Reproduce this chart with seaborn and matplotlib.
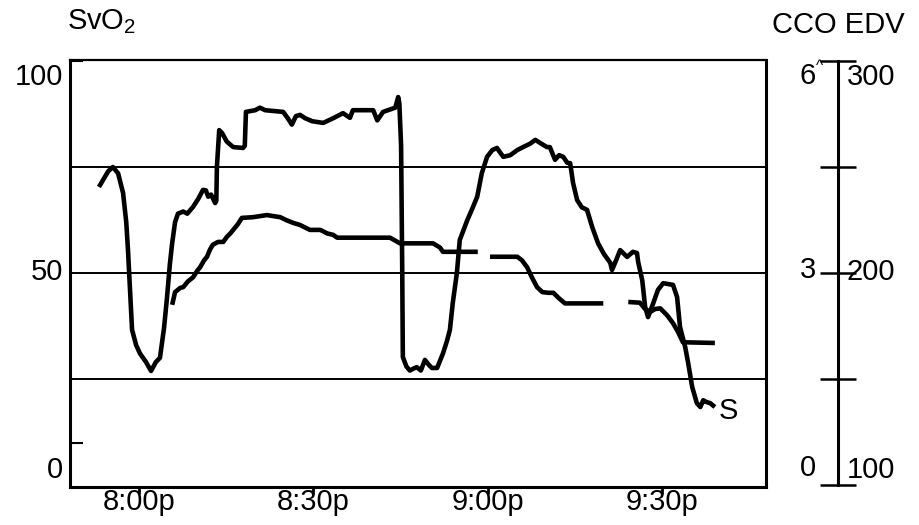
import numpy as np
import pandas as pd
import matplotlib
matplotlib.use("Agg")
import matplotlib.pyplot as plt
import seaborn as sns

# ---------------- data (minutes after 8:00 p.m.) ----------------
svo2_t = [-6.9, -5.3, -4.5, -3.6, -2.75, -2.2, -1.9, -1.7, -1.2, -0.5, 0.17, 1.2, 2.07,
          2.9, 3.6, 4.3, 4.8, 5.3, 5.7, 6.2, 6.7, 7.6, 8.3, 9.3, 10.2, 11.0, 11.5, 11.9,
          12.4, 13.1, 13.3, 13.4, 13.8, 14.3, 15.1, 16.2, 17.9, 18.2, 18.4, 20.0, 20.8,
          21.7, 24.8, 25.6, 26.3, 27.0, 27.7, 28.6, 29.8, 31.7, 33.4, 35.1, 36.3, 36.8,
          40.3, 41.0, 42.0, 44.1, 44.6, 44.8, 45.1, 45.3, 45.4, 46.0, 46.6, 47.3, 47.8,
          48.5, 49.2, 49.9, 50.4, 51.3, 52.3, 53.0, 53.5, 54.0, 54.7, 55.2, 56.5, 57.3,
          58.2, 59.0, 59.9, 60.8, 61.6, 62.1, 62.7, 63.9, 65.1, 66.1, 67.3, 68.2, 69.0,
          70.2, 70.7, 71.6, 72.3, 73.0, 73.7, 74.2, 74.7, 75.4, 76.2, 77.1, 78.0, 79.0,
          80.0, 81.1, 81.4, 82.1, 82.8, 84.0, 85.0, 85.7, 85.9, 86.6, 87.1, 87.6, 88.5,
          89.3, 90.2, 91.9, 92.6, 93.1, 94.0, 94.5, 95.2, 96.0, 96.6, 97.1, 97.6, 98.3,
          99.1]
svo2 = [70.3, 74.0, 75.0, 73.5, 68.9, 62.0, 55.4, 50.0, 36.6, 33.0, 31.0, 29.0, 26.9,
        29.0, 30.0, 37.0, 44.0, 52.0, 57.0, 62.0, 64.0, 64.5, 64.0, 65.6, 67.5, 69.6,
        69.5, 68.0, 68.5, 66.5, 67.0, 75.0, 83.7, 83.0, 81.0, 79.7, 79.5, 80.0, 88.0,
        88.4, 89.0, 88.4, 88.0, 86.5, 85.0, 87.0, 87.3, 86.5, 85.8, 85.4, 86.5, 87.7,
        86.6, 88.4, 88.4, 86.0, 88.0, 89.0, 91.5, 90.0, 80.0, 50.0, 30.2, 28.0, 27.0,
        27.5, 27.8, 27.0, 29.5, 28.3, 27.6, 27.6, 31.0, 34.0, 36.6, 43.0, 50.0, 57.8,
        62.5, 65.0, 68.0, 73.6, 77.4, 79.0, 79.5, 78.5, 77.4, 77.8, 79.0, 79.7, 80.5,
        81.4, 80.7, 79.7, 79.7, 76.7, 77.8, 77.4, 76.0, 75.9, 71.2, 67.2, 65.5, 64.9,
        60.8, 57.0, 54.5, 52.4, 50.7, 53.0, 55.4, 53.8, 55.0, 54.7, 52.6, 48.3, 42.0,
        39.6, 42.9, 46.0, 47.6, 47.2, 44.3, 37.3, 32.5, 28.8, 23.1, 19.3, 18.4, 20.0,
        19.6, 19.3, 18.4]

# CCO (L/min); None marks a break in the trace
cco_t = [5.7, 6.2, 7.1, 7.6, 8.4, 9.3, 10.0, 10.5, 11.2, 11.7, 12.2, 12.7, 13.6, 14.5,
         15.1, 15.7, 16.2, 17.0, 17.7, 19.6, 22.0, 24.3, 25.3, 26.5, 27.7, 29.4, 31.2,
         32.4, 33.4, 34.1, 43.2, 44.9, 50.6, 51.8, 52.3, 58.3, None,
         60.4, 65.1, 65.9, 66.8, 67.6, 68.5, 69.4, 70.4, 71.3, 72.3, 73.3, 79.9, None,
         84.2, 86.2, 87.1, 88.0, 88.8, 89.7, 90.9, 91.9, 92.8, 93.6, 99.1]
cco = [2.55, 2.73, 2.79, 2.80, 2.88, 2.94, 3.03, 3.08, 3.18, 3.23, 3.33, 3.40, 3.44,
       3.44, 3.51, 3.56, 3.61, 3.69, 3.78, 3.79, 3.82, 3.79, 3.75, 3.71, 3.68, 3.61,
       3.61, 3.56, 3.54, 3.50, 3.50, 3.42, 3.42, 3.36, 3.30, 3.30, None,
       3.23, 3.23, 3.18, 3.08, 2.94, 2.80, 2.73, 2.72, 2.72, 2.64, 2.57, 2.57, None,
       2.59, 2.58, 2.49, 2.45, 2.49, 2.50, 2.40, 2.29, 2.16, 2.02, 2.01]

x_ticks = [0, 30, 60, 90]
x_labels = ["8:00p", "8:30p", "9:00p", "9:30p"]
svo2_labels = ["100", "50", "0"]
cco_labels = ["6", "3", "0"]
edv_labels = ["300", "200", "100"]

# ---------------- figure ----------------
sns.set_theme(style="white")
plt.rcParams["font.family"] = ["Liberation Sans", "DejaVu Sans"]
plt.rcParams["mathtext.default"] = "regular"

W, H = 919, 525
fig = plt.figure(figsize=(W / 100, H / 100), dpi=100, facecolor="white")

def fx(px):
    return px / W

def fy(py):
    return 1 - py / H

L, R, T, B = 70, 766, 60, 487
ax = fig.add_axes([fx(L), fy(B), (R - L) / W, (B - T) / H])
ax.set_facecolor("white")
ax.set_xlim(-11.88, 107.9)
ax.set_ylim(-0.47, 100.24)

lw = 3.3
df_s = pd.DataFrame({"t": svo2_t, "v": svo2})
sns.lineplot(data=df_s, x="t", y="v", sort=False, estimator=None, color="black",
             linewidth=lw, ax=ax, solid_joinstyle="round", solid_capstyle="butt")

for g in [25, 50, 75]:
    ax.axhline(g, color="black", linewidth=1.4, zorder=1)

# CCO on a twin axis (0..6 matches 0..100 SvO2)
ax2 = ax.twinx()
ax2.set_ylim(-0.47 * 0.06, 100.24 * 0.06)
seg, sid = [], 0
for c in cco:
    if c is None:
        sid += 1
    seg.append(sid)
df_c = pd.DataFrame({"t": cco_t, "v": cco, "seg": seg}).dropna()
df_c["t"] = df_c["t"].astype(float)
df_c["v"] = df_c["v"].astype(float)
sns.lineplot(data=df_c, x="t", y="v", units="seg", estimator=None, sort=False,
             color="black", linewidth=lw, ax=ax2, legend=False,
             solid_joinstyle="round", solid_capstyle="butt")
ax2.set_xlabel("")
ax2.set_ylabel("")

# main frame
for s in ax.spines.values():
    s.set_color("black")
    s.set_linewidth(2.2)
ax.spines["top"].set_linewidth(1.6)
ax.set_xlabel("")
ax.set_ylabel("")
ax.set_xticks(x_ticks)
ax.set_xticklabels([])
ax.tick_params(axis="x", direction="out", length=5, width=2, color="black", bottom=True)
ax.set_yticks([10, 100])
ax.set_yticklabels([])
ax.tick_params(axis="y", direction="in", length=9, width=1.5, color="black", left=True)

# right CCO/EDV scale as detached spine
for k in ["top", "bottom", "right"]:
    ax2.spines[k].set_visible(False)
ax2.spines["left"].set_visible(True)
ax2.spines["left"].set_position(("axes", 1.103))
ax2.spines["left"].set_linewidth(2.2)
ax2.spines["left"].set_color("black")
ax2.spines["left"].set_bounds(0, 6)
ax2.yaxis.set_ticks_position("left")
ax2.set_yticks([0, 1.5, 3, 4.5, 6])
ax2.set_yticklabels([])
ax2.tick_params(axis="y", direction="inout", length=26, width=1.8, color="black")

fs = 21
# x tick labels
for t, lab in zip(x_ticks, x_labels):
    ax.text(t, 0, lab, ha="center", va="baseline", fontsize=fs, color="black",
            transform=ax.get_xaxis_transform(), clip_on=False)
# shift them to the reference baseline (about y = 510 px)
for txt in ax.texts:
    txt.set_y(-(510 - B) / (B - T))

# left axis labels
for lab, py in zip(svo2_labels, [77, 272, 470]):
    fig.text(fx(63), fy(py), lab, ha="right", va="center", fontsize=fs, color="black")
fig.text(fx(67), fy(22), "SvO$_2$", ha="left", va="center", fontsize=fs, color="black")

# right axis labels
fig.text(fx(905), fy(25), "CCO EDV", ha="right", va="center", fontsize=fs, color="black")
for lab, py in zip(cco_labels, [76, 270, 468]):
    fig.text(fx(816), fy(py), lab, ha="right", va="center", fontsize=fs, color="black")
fig.text(fx(816), fy(66), "^", ha="left", va="center", fontsize=11, color="black")
for lab, py in zip(edv_labels, [77, 272, 470]):
    fig.text(fx(847), fy(py), lab, ha="left", va="center", fontsize=fs, color="black")

# trace label
ax.text(99.8, 17.5, "S", ha="left", va="center", fontsize=fs, color="black")

fig.savefig("out.png", dpi=100, facecolor="white")
